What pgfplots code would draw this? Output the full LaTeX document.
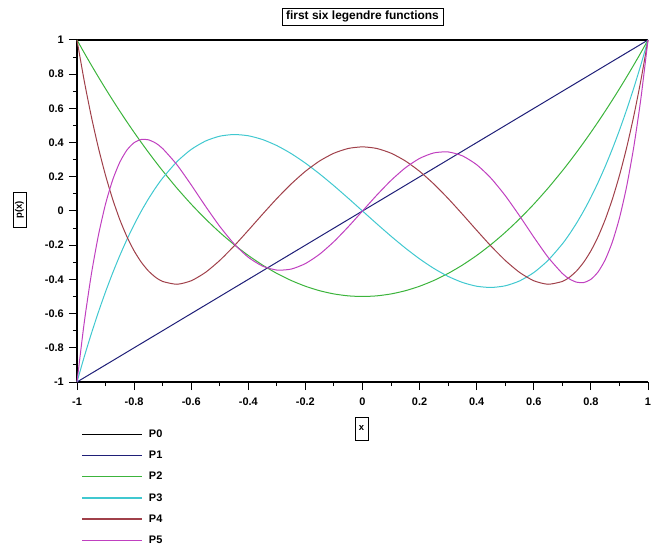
\documentclass[border=0pt]{standalone}
\usepackage{fontspec}
\setmainfont{Liberation Sans}
\usepackage{pgfplots}
\usepackage{pgfplotstable}
\pgfplotsset{compat=1.18}
\definecolor{navyP}{HTML}{1F1F78}
\definecolor{greenP}{HTML}{3CB43C}
\definecolor{cyanP}{HTML}{40C8D0}
\definecolor{brownP}{HTML}{A0404A}
\definecolor{magentaP}{HTML}{C040C0}

% x  P2  P3  P4  P5
\pgfplotstableread{
x      p2         p3          p4          p5
-1     1          -1          1           -1
-0.975 0.9259375  -0.8546484  0.7637908   -0.6567340
-0.95  0.85375    -0.7184375  0.55409     -0.3727436
-0.925 0.7834375  -0.5911328  0.3693181   -0.1420084
-0.90  0.715      -0.4725     0.2079375   0.0411413
-0.875 0.6484375  -0.3623047  0.0684509   0.1820335
-0.85  0.58375    -0.2603125  -0.050598   0.2856644
-0.825 0.5209375  -0.1662891  -0.1506233  0.3567118
-0.80  0.46       -0.08       -0.233      0.39952
-0.775 0.4009375  -0.0012109  -0.2990608  0.4181586
-0.75  0.34375    0.0703125   -0.350098   0.4163818
-0.725 0.2884375  0.1348047   -0.3873616  0.3976631
-0.70  0.235      0.1925      -0.4120625  0.3651988
-0.65  0.13375    0.2884375   -0.42841    0.27049
-0.60  0.04       0.36        -0.408      0.15264
-0.55  -0.04625   0.4090625   -0.359035   0.0281948
-0.50  -0.125     0.4375      -0.2890625  -0.0898438
-0.45  -0.19625   0.4471875   -0.204973   -0.1917222
-0.40  -0.26      0.44        -0.113      -0.27064
-0.35  -0.31625   0.4178125   -0.018723   -0.3224547
-0.30  -0.365     0.3825      0.0729375   -0.3453863
-0.25  -0.40625   0.3359375   0.15771     -0.3397217
-0.20  -0.44      0.28        0.232       -0.30752
-0.15  -0.46625   0.2165625   0.29284     -0.252317
-0.10  -0.485     0.1475      0.3379375   -0.1788288
-0.05  -0.49625   0.0746875   0.365652    -0.092659
0      -0.5       0           0.375       0
0.05   -0.49625   -0.0746875  0.365652    0.092659
0.10   -0.485     -0.1475     0.3379375   0.1788288
0.15   -0.46625   -0.2165625  0.29284     0.252317
0.20   -0.44      -0.28       0.232       0.30752
0.25   -0.40625   -0.3359375  0.15771     0.3397217
0.30   -0.365     -0.3825     0.0729375   0.3453863
0.35   -0.31625   -0.4178125  -0.018723   0.3224547
0.40   -0.26      -0.44       -0.113      0.27064
0.45   -0.19625   -0.4471875  -0.204973   0.1917222
0.50   -0.125     -0.4375     -0.2890625  0.0898438
0.55   -0.04625   -0.4090625  -0.359035   -0.0281948
0.60   0.04       -0.36       -0.408      -0.15264
0.65   0.13375    -0.2884375  -0.42841    -0.27049
0.70   0.235      -0.1925     -0.4120625  -0.3651988
0.725  0.2884375  -0.1348047  -0.3873616  -0.3976631
0.75   0.34375    -0.0703125  -0.350098   -0.4163818
0.775  0.4009375  0.0012109   -0.2990608  -0.4181586
0.80   0.46       0.08        -0.233      -0.39952
0.825  0.5209375  0.1662891   -0.1506233  -0.3567118
0.85   0.58375    0.2603125   -0.050598   -0.2856644
0.875  0.6484375  0.3623047   0.0684509   -0.1820335
0.90   0.715      0.4725      0.2079375   -0.0411413
0.925  0.7834375  0.5911328   0.3693181   0.1420084
0.95   0.85375    0.7184375   0.55409     0.3727436
0.975  0.9259375  0.8546484   0.7637908   0.6567340
1      1          1           1           1
}\legtable

\begin{document}
\begin{tikzpicture}
\path[use as bounding box] (0bp,0bp) rectangle (659bp,544bp);
\begin{axis}[
  at={(77bp,162bp)}, anchor=south west,
  scale only axis, width=571bp, height=342bp,
  xmin=-1, xmax=1, ymin=-1, ymax=1,
  axis lines*=left,
  axis line style={black, line width=1.1bp},
  clip=false,
  xtick={-1,-0.8,-0.6,-0.4,-0.2,0,0.2,0.4,0.6,0.8,1},
  ytick={-1,-0.8,-0.6,-0.4,-0.2,0,0.2,0.4,0.6,0.8,1},
  xticklabels={-1,-0.8,-0.6,-0.4,-0.2,0,0.2,0.4,0.6,0.8,1},
  yticklabels={-1,-0.8,-0.6,-0.4,-0.2,0,0.2,0.4,0.6,0.8,1},
  minor x tick num=1, minor y tick num=1,
  tick align=outside,
  major tick length=8bp, minor tick length=4bp,
  tick style={black, line width=1bp},
  tick label style={font=\fontsize{11}{13}\selectfont\bfseries},
  yticklabel style={anchor=east, inner sep=0pt, xshift=-5bp},
  xticklabel style={anchor=north, inner sep=0pt, yshift=-8bp},
  legend style={at={(axis description cs:0.008,-0.14)}, anchor=north west,
    draw=none, fill=none, inner sep=0pt, row sep=12bp,
    font=\fontsize{11}{13}\selectfont\bfseries,
    nodes={inner sep=0pt, anchor=west},
    /tikz/every odd column/.append style={column sep=6bp}},
  legend cell align=left,
  legend image code/.code={\draw[#1, line width=1.2bp] (0bp,0bp) -- (60bp,0bp);},
  every axis plot/.append style={line width=1bp, line join=round},
]
\addplot[black, line width=1.2bp] coordinates {(-1,1) (1,1)};
\addlegendentry{P0}
\addplot[navyP] coordinates {(-1,-1) (1,1)};
\addlegendentry{P1}
\addplot[greenP, smooth, tension=0.4] table[x=x, y=p2] {\legtable};
\addlegendentry{P2}
\addplot[cyanP, smooth, tension=0.4] table[x=x, y=p3] {\legtable};
\addlegendentry{P3}
\addplot[brownP, smooth, tension=0.4] table[x=x, y=p4] {\legtable};
\addlegendentry{P4}
\addplot[magentaP, smooth, tension=0.4] table[x=x, y=p5] {\legtable};
\addlegendentry{P5}
\end{axis}
\node[draw, line width=0.9bp, minimum width=161bp, minimum height=17bp, inner sep=0pt,
  font=\fontsize{12}{14}\selectfont\bfseries] at (362.5bp,527.5bp) {first six legendre functions};
\node[draw, line width=0.9bp, rotate=90, minimum width=35bp, minimum height=13bp, inner sep=0pt,
  font=\fontsize{9.5}{11}\selectfont\bfseries] at (19.5bp,334bp) {p(x)};
\node[draw, line width=0.9bp, minimum width=13bp, minimum height=23bp, inner sep=0pt,
  font=\fontsize{9.5}{11}\selectfont\bfseries] at (361.5bp,115.5bp) {x};
\end{tikzpicture}
\end{document}
